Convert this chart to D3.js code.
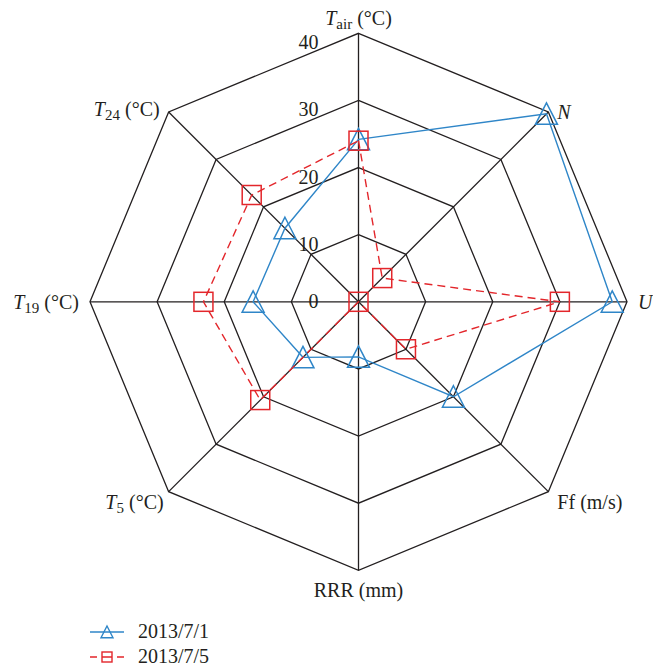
<!DOCTYPE html>
<html>
<head>
<meta charset="utf-8">
<script src="https://cdn.jsdelivr.net/npm/d3@7"></script>
<style>
  body { margin: 0; background: #fff; }
  text { font-family: "Liberation Serif", "DejaVu Serif", serif; fill: #231f20; }
</style>
</head>
<body>
<div id="chart"></div>
<script>
// axes go clockwise from the top
var axisNames = ["Tair", "N", "U", "Ff", "RRR", "T5", "T19", "T24"];
var tickValues = [0, 10, 20, 30, 40];
var series1 = [24.2, 39.6, 37.8, 20, 8.2, 11.7, 15.7, 15.5];   // 2013/7/1
var series2 = [24, 5, 30, 10, 0, 20.7, 23.1, 22.5];            // 2013/7/5
var seriesNames = ["2013/7/1", "2013/7/5"];

var width = 653, height = 671,
    cx = 358.5, cy = 301.8,
    radius = 268.5,
    blue = "#2f86c8", red = "#e3262b";

// how each axis label is written and where it sits relative to its vertex
var labelStyle = {
  Tair: {parts: [["T", "it"], ["air", "sub"], [" (°C)", ""]], anchor: "middle", dx: 0, dy: -8},
  N:    {parts: [["N", "it"]], anchor: "start", dx: 9, dy: 7},
  U:    {parts: [["U", "it"]], anchor: "start", dx: 11, dy: 7},
  Ff:   {parts: [["Ff (m/s)", ""]], anchor: "start", dx: 9, dy: 17},
  RRR:  {parts: [["RRR (mm)", ""]], anchor: "middle", dx: 0, dy: 27},
  T5:   {parts: [["T", "it"], ["5", "sub"], [" (°C)", ""]], anchor: "end", dx: -5, dy: 17},
  T19:  {parts: [["T", "it"], ["19", "sub"], [" (°C)", ""]], anchor: "end", dx: -11, dy: 7},
  T24:  {parts: [["T", "it"], ["24", "sub"], [" (°C)", ""]], anchor: "end", dx: -9, dy: 4}
};

var r = d3.scaleLinear().domain([0, 40]).range([0, radius]);
var angle = d3.scaleLinear().domain([0, axisNames.length]).range([0, 2 * Math.PI]);

var svg = d3.select("#chart").append("svg")
  .attr("width", width)
  .attr("height", height);

var g = svg.append("g")
  .attr("transform", "translate(" + cx + "," + cy + ")");

var ring = d3.lineRadial()
  .angle(function (d, i) { return angle(i); })
  .radius(function (d) { return r(d); })
  .curve(d3.curveLinearClosed);

// grid rings
g.selectAll("path.ring")
  .data(tickValues.filter(function (t) { return t > 0; }))
  .enter().append("path")
    .attr("class", "ring")
    .attr("d", function (t) { return ring(axisNames.map(function () { return t; })); })
    .attr("fill", "none")
    .attr("stroke", "#231f20")
    .attr("stroke-width", 1.3);

// spokes
g.selectAll("line.spoke")
  .data(axisNames)
  .enter().append("line")
    .attr("class", "spoke")
    .attr("x1", 0).attr("y1", 0)
    .attr("x2", function (d, i) { return d3.pointRadial(angle(i), r(40))[0]; })
    .attr("y2", function (d, i) { return d3.pointRadial(angle(i), r(40))[1]; })
    .attr("stroke", "#231f20")
    .attr("stroke-width", 1.3);

// tick labels
g.selectAll("text.tick")
  .data(tickValues)
  .enter().append("text")
    .attr("class", "tick")
    .attr("x", -40)
    .attr("y", function (t) { return t === 0 ? 6 : -r(t) + 16; })
    .attr("text-anchor", "end")
    .style("font-size", "20px")
    .text(function (t) { return t; });

// axis labels
var labels = g.selectAll("text.axis-label")
  .data(axisNames)
  .enter().append("text")
    .attr("class", "axis-label")
    .attr("x", function (d, i) { return d3.pointRadial(angle(i), r(40))[0] + labelStyle[d].dx; })
    .attr("y", function (d, i) { return d3.pointRadial(angle(i), r(40))[1] + labelStyle[d].dy; })
    .attr("text-anchor", function (d) { return labelStyle[d].anchor; })
    .style("font-size", "20px");

labels.each(function (d) {
  var t = d3.select(this);
  labelStyle[d].parts.forEach(function (p, k) {
    var span = t.append("tspan").text(p[0]);
    if (p[1] === "it") span.style("font-style", "italic");
    if (p[1] === "sub") span.style("font-size", "15px").attr("dy", 4);
    var prev = k > 0 ? labelStyle[d].parts[k - 1] : null;
    if (prev && prev[1] === "sub") span.attr("dy", -4);
  });
});

function triangle(s) {
  return "M0," + (-s) + "L" + s + "," + (s * 0.95) + "L" + (-s) + "," + (s * 0.95) + "Z";
}

function drawSeries(values, color, dash, marker) {
  g.append("path")
    .attr("d", ring(values))
    .attr("fill", "none")
    .attr("stroke", color)
    .attr("stroke-width", 1.4)
    .attr("stroke-dasharray", dash);

  var pts = g.selectAll(null)
    .data(values)
    .enter().append("g")
      .attr("transform", function (d, i) {
        var p = d3.pointRadial(angle(i), r(d));
        return "translate(" + p[0] + "," + p[1] + ")";
      });

  if (marker === "triangle") {
    pts.append("path")
      .attr("d", triangle(11))
      .attr("fill", "none")
      .attr("stroke", color)
      .attr("stroke-width", 1.5);
  } else {
    pts.append("rect")
      .attr("x", -9.5).attr("y", -9.5)
      .attr("width", 19).attr("height", 19)
      .attr("fill", "none")
      .attr("stroke", color)
      .attr("stroke-width", 1.5);
  }
}

drawSeries(series1, blue, null, "triangle");
drawSeries(series2, red, "8,5", "square");

// legend
var legend = svg.append("g").attr("transform", "translate(90,632)");

var l1 = legend.append("g");
l1.append("line").attr("x1", 0).attr("x2", 34).attr("y1", 0).attr("y2", 0)
  .attr("stroke", blue).attr("stroke-width", 1.4);
l1.append("path").attr("d", triangle(6)).attr("transform", "translate(17,0)")
  .attr("fill", "none").attr("stroke", blue).attr("stroke-width", 1.4);
l1.append("text").attr("x", 48).attr("y", 6).style("font-size", "20px").text(seriesNames[0]);

var l2 = legend.append("g").attr("transform", "translate(0,25)");
l2.append("line").attr("x1", 0).attr("x2", 34).attr("y1", 0).attr("y2", 0)
  .attr("stroke", red).attr("stroke-width", 1.4).attr("stroke-dasharray", "7,5,10,5,7");
l2.append("rect").attr("x", 12).attr("y", -5).attr("width", 10).attr("height", 10)
  .attr("fill", "none").attr("stroke", red).attr("stroke-width", 1.4);
l2.append("text").attr("x", 48).attr("y", 6).style("font-size", "20px").text(seriesNames[1]);
</script>
</body>
</html>
